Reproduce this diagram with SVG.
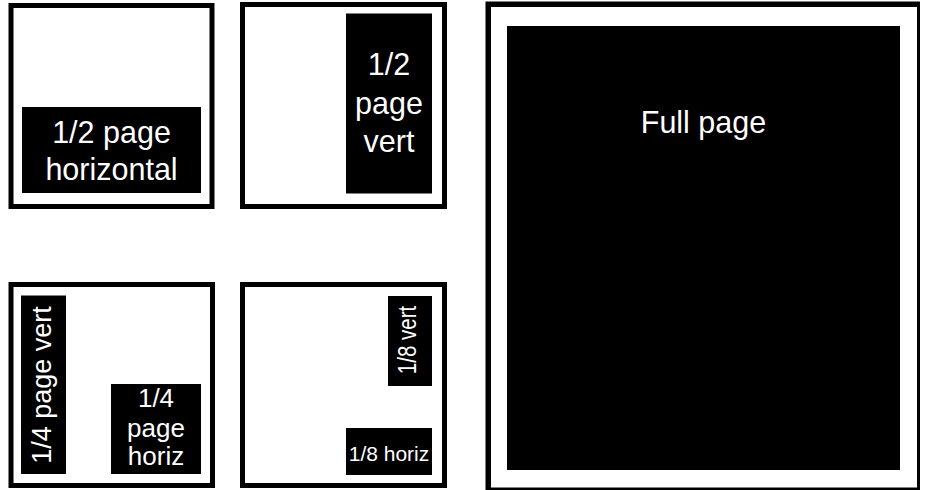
<svg xmlns="http://www.w3.org/2000/svg" width="925" height="490" viewBox="0 0 925 490">
<style>
.frame{fill:#fff;stroke:#000;stroke-width:5}
.blk{fill:#000}
.t{fill:#fff;font-family:"Liberation Sans",Arial,sans-serif;text-anchor:middle}
</style>
<rect width="925" height="490" fill="#fff"/>
<g id="half-horizontal">
<rect class="frame" x="11" y="5.5" width="201" height="201"/>
<rect class="blk" x="22" y="107" width="179" height="86"/>
<text class="t" x="111.5" y="143" font-size="30.5">1/2 page</text>
<text class="t" x="111.5" y="180" font-size="30.5">horizontal</text>
</g>
<g id="half-vert">
<rect class="frame" x="242.5" y="4.5" width="202" height="202"/>
<rect class="blk" x="346" y="13.5" width="86" height="180"/>
<text class="t" x="389" y="75" font-size="30.5">1/2</text>
<text class="t" x="389" y="113.5" font-size="30.5">page</text>
<text class="t" x="389" y="152" font-size="30.5">vert</text>
</g>
<g id="quarter">
<rect class="frame" x="11" y="284.5" width="201.5" height="201"/>
<rect class="blk" x="21" y="295.5" width="45" height="178.5"/>
<text class="t" transform="translate(51,385) rotate(-90)" font-size="27">1/4 page vert</text>
<rect class="blk" x="111" y="384" width="90" height="90"/>
<text class="t" x="156" y="407" font-size="26">1/4</text>
<text class="t" x="156" y="437" font-size="26">page</text>
<text class="t" x="156" y="465" font-size="26">horiz</text>
</g>
<g id="eighth">
<rect class="frame" x="242.5" y="284.5" width="202" height="201"/>
<rect class="blk" x="388" y="296" width="44" height="90"/>
<text class="t" transform="translate(416,340) rotate(-90) scale(0.82,1)" font-size="25">1/8 vert</text>
<rect class="blk" x="346" y="428" width="86" height="47"/>
<text class="t" x="389" y="461" font-size="21">1/8 horiz</text>
</g>
<g id="full-page">
<rect class="blk" x="485.5" y="1.5" width="434.5" height="488.5"/>
<rect fill="#fff" x="491" y="7" width="426" height="480.5"/>
<rect class="blk" x="507" y="26" width="393" height="444"/>
<text class="t" x="703.5" y="133" font-size="30.5">Full page</text>
</g>
<g id="connectors"/>
</svg>
